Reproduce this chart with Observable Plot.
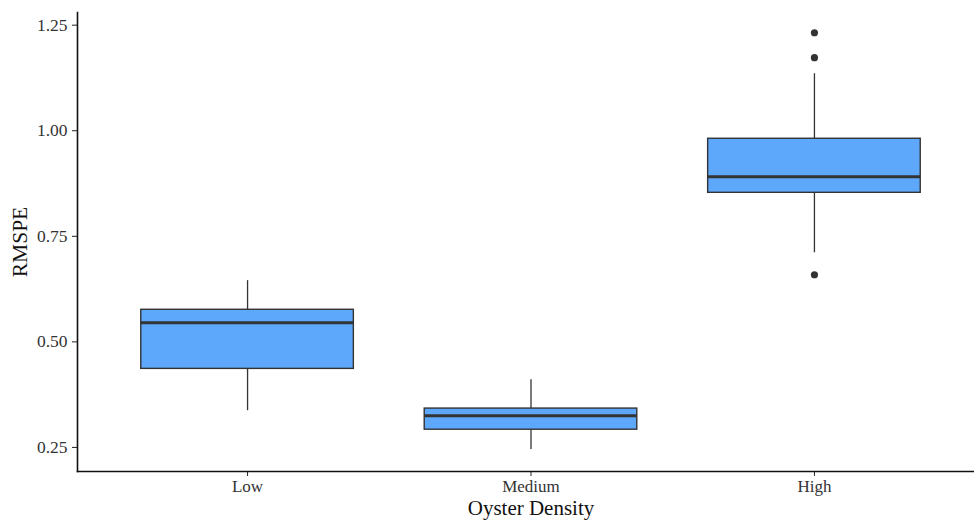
<!DOCTYPE html>
<html>
<head>
<meta charset="utf-8">
<script src="https://cdn.jsdelivr.net/npm/d3@7"></script>
<script src="https://cdn.jsdelivr.net/npm/@observablehq/plot@0.6"></script>
<style>
  html, body { margin: 0; padding: 0; background: #fff; overflow: hidden; }
</style>
</head>
<body>
<div id="chart"></div>
<script>
const categories = ["Low", "Medium", "High"];
const whiskerLow  = [0.337, 0.245, 0.711];
const q1          = [0.436, 0.292, 0.853];
const median      = [0.545, 0.325, 0.891];
const q3          = [0.576, 0.342, 0.981];
const whiskerHigh = [0.645, 0.410, 1.135];
const outlierCategory = ["High", "High", "High"];
const outlierValue    = [1.232, 1.173, 0.659];
const yTicks = [0.25, 0.50, 0.75, 1.00, 1.25];

const boxes = categories.map((c, i) => ({
  cat: c, lo: whiskerLow[i], q1: q1[i], med: median[i], q3: q3[i], hi: whiskerHigh[i]
}));
const outliers = outlierCategory.map((c, i) => ({cat: c, v: outlierValue[i]}));

const fill = "#5EA8FB";
const dark = "#333333";

const chart = Plot.plot({
  width: 974,
  height: 520,
  marginLeft: 77,
  marginRight: -10,
  marginTop: 12,
  marginBottom: 49,
  style: {fontFamily: "'Liberation Serif', 'Times New Roman', serif", background: "#fff", overflow: "hidden"},
  x: {type: "band", domain: categories, paddingInner: 0.25, paddingOuter: 0.225, round: false, label: null},
  y: {domain: [0.193, 1.28], label: null},
  marks: [
    Plot.ruleX(boxes, {x: "cat", y1: "lo", y2: "q1", stroke: dark, strokeWidth: 1.3}),
    Plot.ruleX(boxes, {x: "cat", y1: "q3", y2: "hi", stroke: dark, strokeWidth: 1.3}),
    Plot.barY(boxes, {x: "cat", y1: "q1", y2: "q3", fill: fill, stroke: dark, strokeWidth: 1.4}),
    Plot.tickY(boxes, {x: "cat", y: "med", stroke: dark, strokeWidth: 3}),
    Plot.dot(outliers, {x: "cat", y: "v", r: 3.6, fill: dark, stroke: "none"}),
    Plot.axisY({ticks: yTicks, tickFormat: d3.format(".2f"), tickSize: 5, tickPadding: 5, fontSize: 17.5, color: "#333", stroke: "#222", label: null}),
    Plot.axisX({tickSize: 5, tickPadding: 3, fontSize: 17, color: "#333", stroke: "#222", label: null}),
    Plot.frame({anchor: "left", stroke: "#111", strokeWidth: 1.6}),
    Plot.frame({anchor: "bottom", stroke: "#111", strokeWidth: 1.6}),
    Plot.text(["Oyster Density"], {frameAnchor: "bottom", dy: 43, fontSize: 21, fill: "#111"}),
    Plot.text(["RMSPE"], {frameAnchor: "left", dx: -57, rotate: -90, textAnchor: "middle", fontSize: 21.5, fill: "#111"})
  ]
});
document.getElementById("chart").appendChild(chart);
</script>
</body>
</html>
